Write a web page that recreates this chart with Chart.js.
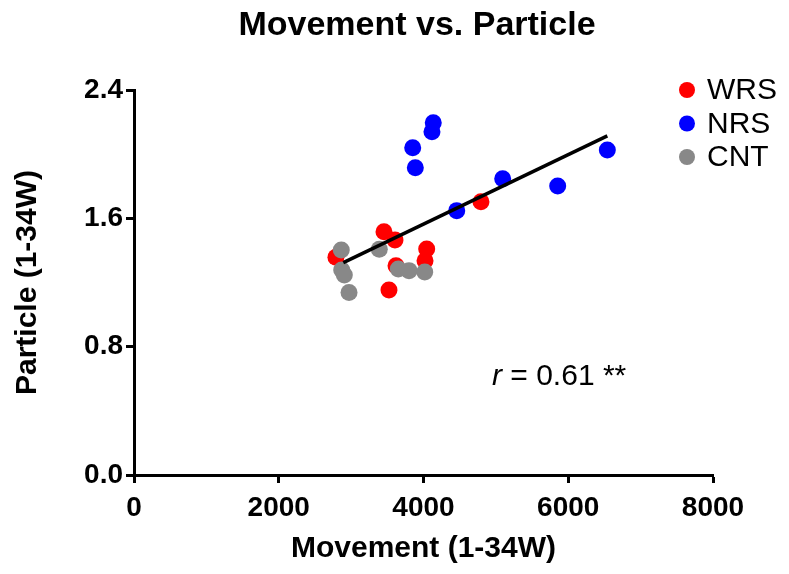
<!DOCTYPE html>
<html>
<head>
<meta charset="utf-8">
<script src="https://cdn.jsdelivr.net/npm/chart.js@4.4.1/dist/chart.umd.min.js"></script>
<style>
  html, body { margin: 0; padding: 0; background: #fff; }
  #wrap { width: 789px; height: 574px; }
</style>
</head>
<body>
<div id="wrap"><canvas id="myChart"></canvas></div>
<script>
// values
const wrsX = [2790, 3454, 3606, 4044, 4021, 3620, 3523, 4794];
const wrsY = [1.357, 1.517, 1.465, 1.409, 1.336, 1.305, 1.153, 1.704];
const nrsX = [4135, 4117, 3851, 3887, 5094, 6540, 5854, 4459];
const nrsY = [2.196, 2.140, 2.040, 1.916, 1.847, 2.026, 1.802, 1.648];
const cntX = [2864, 3389, 2870, 2906, 3652, 3800, 4017, 2971];
const cntY = [1.403, 1.407, 1.278, 1.247, 1.284, 1.274, 1.266, 1.137];
const fitX = [2892, 6540];
const fitY = [1.324, 2.114];
const yTicks = [0, 0.8, 1.6, 2.4];

const pts = (xs, ys) => xs.map((x, i) => ({x: x, y: ys[i]}));
const FONT = '"Liberation Sans", Arial, Helvetica, sans-serif';

// title, legend and r label drawn straight on the canvas
const extras = {
  id: 'extras',
  afterDraw(chart) {
    const c = chart.ctx;
    c.save();
    c.fillStyle = '#000';
    c.textAlign = 'center';
    c.textBaseline = 'middle';
    c.font = 'bold 34px ' + FONT;
    c.fillText('Movement vs. Particle', 417, 26);

    const items = chart.data.datasets.filter(d => d.type !== 'line');
    items.forEach((d, i) => {
      const y = 90 + i * 33.5;
      c.beginPath();
      c.arc(687, y, 8, 0, Math.PI * 2);
      c.fillStyle = d.backgroundColor;
      c.fill();
      c.fillStyle = '#000';
      c.textAlign = 'left';
      c.font = '30px ' + FONT;
      c.fillText(d.label, 707, y + 1);
    });

    c.textAlign = 'left';
    c.font = 'italic 30px ' + FONT;
    c.fillText('r', 492, 377);
    const w = c.measureText('r').width;
    c.font = '30px ' + FONT;
    c.fillText(' = 0.61 **', 492 + w, 377);
    c.restore();
  }
};

const ctx = document.getElementById('myChart');

new Chart(ctx, {
  type: 'scatter',
  data: {
    datasets: [
      {
        label: 'WRS',
        data: pts(wrsX, wrsY),
        backgroundColor: '#ff0000',
        borderWidth: 0,
        pointRadius: 8.5,
        order: 3
      },
      {
        label: 'NRS',
        data: pts(nrsX, nrsY),
        backgroundColor: '#0000ff',
        borderWidth: 0,
        pointRadius: 8.5,
        order: 2
      },
      {
        label: 'CNT',
        data: pts(cntX, cntY),
        backgroundColor: '#888888',
        borderWidth: 0,
        pointRadius: 8.5,
        order: 1
      },
      {
        type: 'line',
        label: 'fit',
        data: pts(fitX, fitY),
        borderColor: '#000',
        borderWidth: 3.5,
        pointRadius: 0,
        fill: false,
        order: 0
      }
    ]
  },
  options: {
    responsive: true,
    maintainAspectRatio: false,
    animation: false,
    layout: { padding: { top: 90, right: 76, left: 0, bottom: 0 } },
    scales: {
      x: {
        type: 'linear',
        min: 0,
        max: 8000,
        afterFit: s => { s.height = 99; },
        ticks: {
          stepSize: 2000,
          color: '#000',
          padding: 8,
          callback: v => String(v),
          font: { family: FONT, size: 28, weight: 'bold' }
        },
        grid: {
          drawOnChartArea: false,
          drawTicks: true,
          tickLength: 8,
          tickWidth: 3,
          tickColor: '#000'
        },
        border: { display: true, color: '#000', width: 3 },
        title: {
          display: true,
          text: 'Movement (1-34W)',
          color: '#000',
          padding: { top: 0, bottom: 7 },
          font: { family: FONT, size: 30, weight: 'bold' }
        }
      },
      y: {
        min: 0,
        max: 2.4,
        afterFit: s => { s.width = 134; },
        afterBuildTicks: s => { s.ticks = yTicks.map(v => ({value: v})); },
        ticks: {
          color: '#000',
          padding: 3,
          callback: v => Number(v).toFixed(1),
          font: { family: FONT, size: 28, weight: 'bold' }
        },
        grid: {
          drawOnChartArea: false,
          drawTicks: true,
          tickLength: 8,
          tickWidth: 3,
          tickColor: '#000'
        },
        border: { display: true, color: '#000', width: 3 },
        title: {
          display: true,
          text: 'Particle (1-34W)',
          color: '#000',
          padding: { top: 10, bottom: 0 },
          font: { family: FONT, size: 30, weight: 'bold' }
        }
      }
    },
    plugins: {
      legend: { display: false },
      title: { display: false },
      tooltip: { enabled: false }
    }
  },
  plugins: [extras]
});
</script>
</body>
</html>
